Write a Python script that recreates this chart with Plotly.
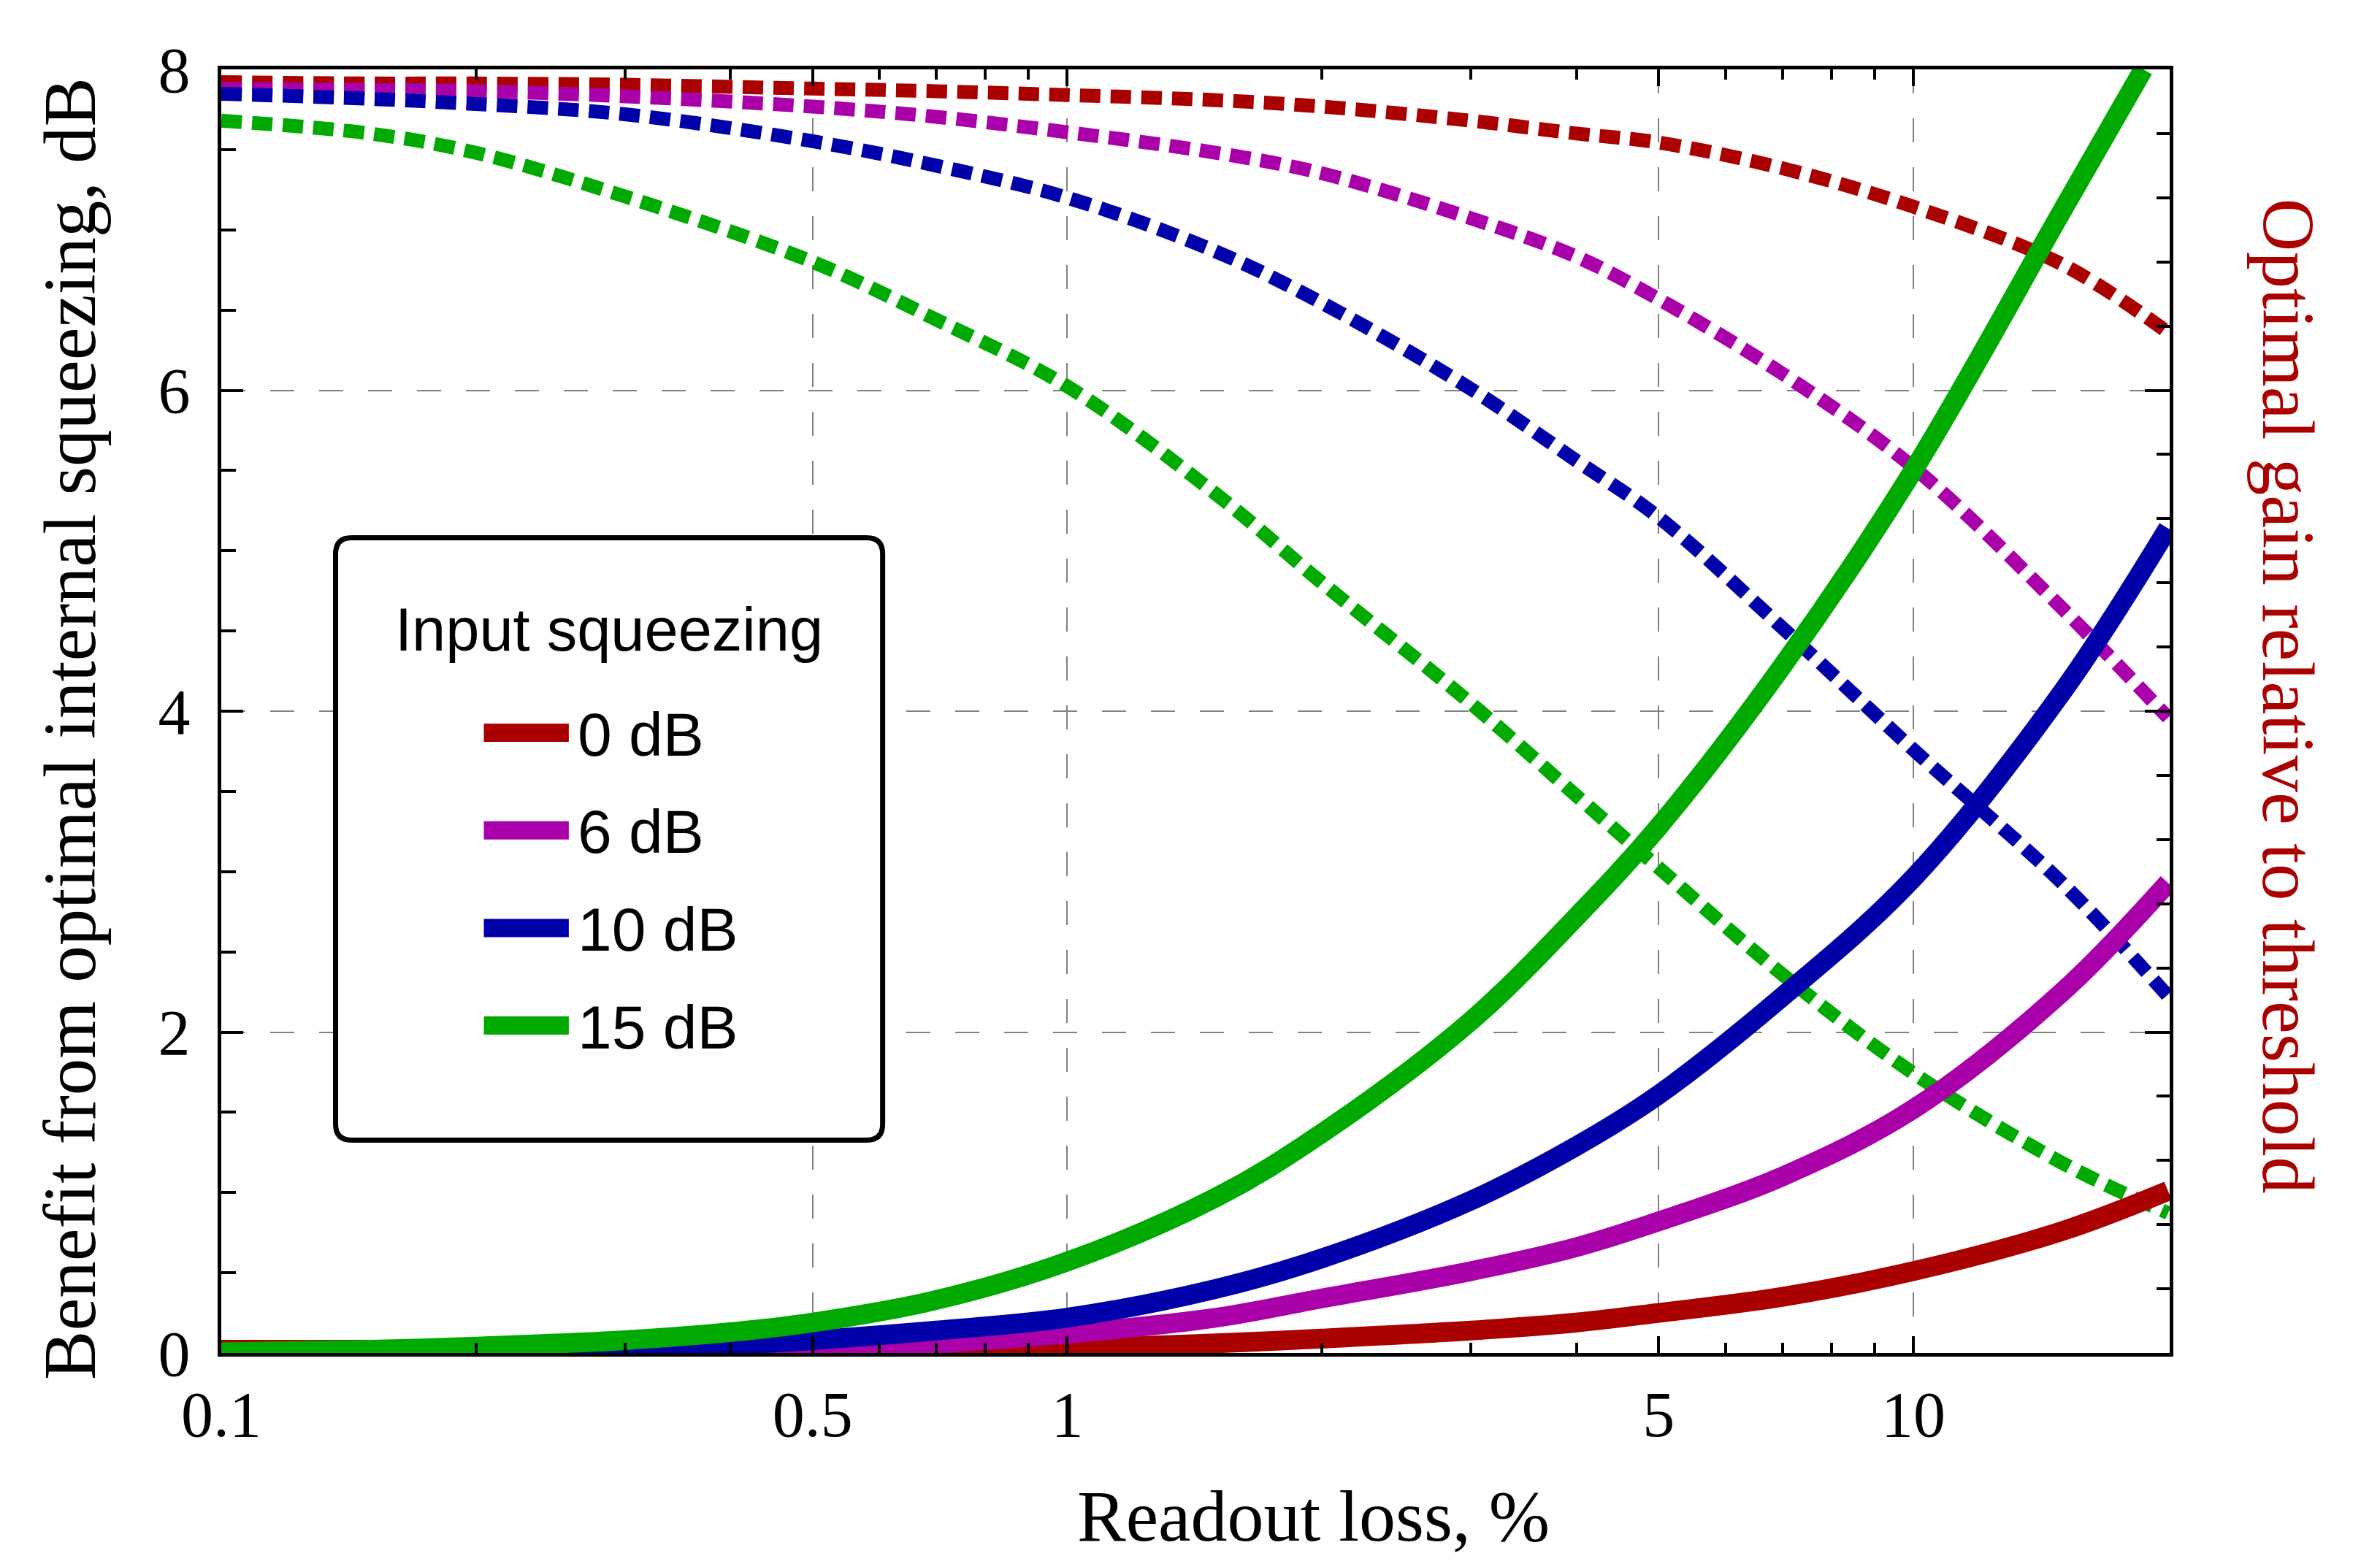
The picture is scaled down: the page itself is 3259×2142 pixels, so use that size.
import plotly.graph_objects as go

# ---------------- data ----------------
series_names = ["0 dB", "6 dB", "10 dB", "15 dB"]
series_colors = ["#AA0000", "#AA00AA", "#0000AA", "#00AA00"]

# Solid curves: benefit from optimal internal squeezing, dB (left axis)
loss_solid = [0.1, 0.15, 0.2, 0.3, 0.4, 0.5, 0.7, 1, 1.5, 2, 3, 4, 5, 7, 10, 15, 20]
benefit_0dB = [0.02, 0.02, 0.02, 0.02, 0.02, 0.02, 0.025, 0.03, 0.06, 0.09, 0.14, 0.19, 0.25, 0.35, 0.51, 0.76, 1.01]
benefit_6dB = [0.0, 0.0, 0.005, 0.01, 0.02, 0.03, 0.06, 0.12, 0.22, 0.34, 0.51, 0.66, 0.82, 1.10, 1.52, 2.25, 2.93]
benefit_10dB = [0.0, 0.005, 0.01, 0.02, 0.05, 0.08, 0.14, 0.22, 0.40, 0.59, 0.95, 1.29, 1.61, 2.22, 2.96, 4.12, 5.14]
loss_solid_15dB = [0.1, 0.15, 0.2, 0.3, 0.4, 0.5, 0.7, 1, 1.5, 2, 3, 4, 5, 7, 10, 15, 18.7]
benefit_15dB = [0.005, 0.02, 0.04, 0.08, 0.13, 0.19, 0.33, 0.57, 0.97, 1.37, 2.07, 2.72, 3.28, 4.28, 5.50, 7.12, 8.0]

# Dashed curves: optimal gain relative to threshold (right axis, 0..1)
loss_dashed = [0.1, 0.15, 0.2, 0.3, 0.5, 0.7, 1, 1.5, 2, 3, 4, 5, 7, 10, 15, 20]
gain_0dB = [0.990, 0.989, 0.989, 0.988, 0.985, 0.983, 0.980, 0.976, 0.971, 0.960, 0.950, 0.943, 0.923, 0.893, 0.848, 0.795]
gain_6dB = [0.985, 0.984, 0.983, 0.979, 0.971, 0.963, 0.951, 0.935, 0.919, 0.884, 0.854, 0.821, 0.763, 0.690, 0.580, 0.495]
gain_10dB = [0.981, 0.977, 0.973, 0.965, 0.944, 0.925, 0.900, 0.858, 0.818, 0.751, 0.695, 0.651, 0.565, 0.470, 0.366, 0.278]
gain_15dB = [0.960, 0.950, 0.935, 0.901, 0.850, 0.805, 0.753, 0.669, 0.600, 0.506, 0.434, 0.378, 0.295, 0.218, 0.148, 0.109]

solid_x = [loss_solid, loss_solid, loss_solid, loss_solid_15dB]
solid_y = [benefit_0dB, benefit_6dB, benefit_10dB, benefit_15dB]
dashed_y = [gain_0dB, gain_6dB, gain_10dB, gain_15dB]

x_tickvals = [0.1, 0.5, 1, 5, 10]
x_ticktext = ["0.1", "0.5", "1", "5", "10"]
x_minor = [0.2, 0.3, 0.4, 0.6, 0.7, 0.8, 0.9, 2, 3, 4, 6, 7, 8, 9]
y_tickvals = [0, 2, 4, 6, 8]
gain_tickvals = [0, 0.25, 0.5, 0.75, 1.0]
gain_minor = [i * 0.05 for i in range(21)]

legend_title = "Input squeezing"
x_title = "Readout loss, %"
y_title = "Benefit from optimal internal squeezing, dB"
y2_title = "Optimal gain relative to threshold"

# ---------------- layout geometry ----------------
W, H = 3259, 2142
L, R, T, B = 295, 2962.6, 87, 1845


def px(xp):
    return (xp - L) / (R - L)


def py(yp):
    return (B - yp) / (B - T)


SERIF = "Liberation Serif, Times New Roman, serif"
SANS = "Liberation Sans, Arial, sans-serif"

fig = go.Figure()

# dashed curves (gain) on base axis 'y' -> drawn underneath
for name, col, yv in zip(series_names, series_colors, dashed_y):
    fig.add_trace(go.Scatter(
        x=loss_dashed, y=yv, mode="lines", xaxis="x", yaxis="y",
        line=dict(color=col, width=19, dash="28px,14px", shape="spline", smoothing=1.0),
        name=name + " gain", showlegend=False, hoverinfo="skip"))

# solid curves (benefit) on overlaying axis 'y2'
for name, col, xv, yv in zip(series_names, series_colors, solid_x, solid_y):
    fig.add_trace(go.Scatter(
        x=xv, y=yv, mode="lines", xaxis="x", yaxis="y2",
        line=dict(color=col, width=27, shape="spline", smoothing=1.0),
        name=name, showlegend=False, hoverinfo="skip"))

grid_dash = "33px,34px"

fig.update_layout(
    width=W, height=H,
    margin=dict(l=L, r=W - R, t=T, b=H - B, autoexpand=False),
    paper_bgcolor="white", plot_bgcolor="white",
    showlegend=False,
    xaxis=dict(
        type="log", range=[-1, 1.303],
        tickmode="array", tickvals=x_tickvals, ticktext=x_ticktext,
        ticks="inside", ticklen=23, tickwidth=4, tickcolor="black",
        showline=True, linewidth=5, linecolor="black", mirror="ticks",
        showgrid=True, gridcolor="#808080", gridwidth=2, griddash=grid_dash,
        zeroline=False,
        tickfont=dict(family=SERIF, size=88, color="black"),
        ticklabelstandoff=3,
        minor=dict(tickmode="array", tickvals=x_minor, ticks="inside",
                   ticklen=14, tickwidth=4, tickcolor="black", showgrid=False),
    ),
    yaxis=dict(
        range=[0, 1], side="right",
        tickmode="array", tickvals=gain_tickvals, showticklabels=False,
        ticks="inside", ticklen=34, tickwidth=4, tickcolor="black",
        showline=True, linewidth=5, linecolor="black",
        showgrid=False, zeroline=False,
        minor=dict(tickmode="array", tickvals=gain_minor, ticks="inside",
                   ticklen=18, tickwidth=4, tickcolor="black", showgrid=False),
    ),
    yaxis2=dict(
        range=[0, 8], side="left", overlaying="y",
        tickmode="array", tickvals=y_tickvals,
        ticks="inside", ticklen=30, tickwidth=4, tickcolor="black",
        showline=True, linewidth=5, linecolor="black",
        showgrid=True, gridcolor="#808080", gridwidth=2, griddash=grid_dash,
        zeroline=False,
        tickfont=dict(family=SERIF, size=88, color="black"),
        ticklabelstandoff=20,
        minor=dict(dtick=0.5, tick0=0, ticks="inside",
                   ticklen=20, tickwidth=4, tickcolor="black", showgrid=False),
    ),
)

annotations = [
    dict(text=x_title, x=px(1790), y=py(2068), xref="paper", yref="paper",
         xanchor="center", yanchor="middle", showarrow=False,
         font=dict(family=SERIF, size=100, color="black")),
    dict(text=y_title, x=px(88), y=py(990), xref="paper", yref="paper",
         xanchor="center", yanchor="middle", showarrow=False, textangle=-90,
         font=dict(family=SERIF, size=101, color="black")),
    dict(text=y2_title, x=px(3125), y=py(945), xref="paper", yref="paper",
         xanchor="center", yanchor="middle", showarrow=False, textangle=90,
         font=dict(family=SERIF, size=101, color="#AA0000")),
    dict(text=legend_title, x=px(826), y=py(855), xref="paper", yref="paper",
         xanchor="center", yanchor="middle", showarrow=False,
         font=dict(family=SANS, size=83, color="black")),
]

shapes = []
# legend box with rounded corners
bx0, bx1, by0, by1, rr = 451.5, 1200.5, 728.5, 1553.5, 22
path = (
    f"M {px(bx0 + rr)},{py(by0)} L {px(bx1 - rr)},{py(by0)} "
    f"Q {px(bx1)},{py(by0)} {px(bx1)},{py(by0 + rr)} "
    f"L {px(bx1)},{py(by1 - rr)} Q {px(bx1)},{py(by1)} {px(bx1 - rr)},{py(by1)} "
    f"L {px(bx0 + rr)},{py(by1)} Q {px(bx0)},{py(by1)} {px(bx0)},{py(by1 - rr)} "
    f"L {px(bx0)},{py(by0 + rr)} Q {px(bx0)},{py(by0)} {px(bx0 + rr)},{py(by0)} Z"
)
shapes.append(dict(type="path", path=path, xref="paper", yref="paper",
                   line=dict(color="black", width=7), fillcolor="white", layer="above"))

item_y0, item_dy = 995.5, 133.7
for i, (name, col) in enumerate(zip(series_names, series_colors)):
    yc = item_y0 + i * item_dy
    shapes.append(dict(type="line", xref="paper", yref="paper",
                       x0=px(654.5), x1=px(770.8), y0=py(yc), y1=py(yc),
                       line=dict(color=col, width=25), layer="above"))
    annotations.append(dict(text=name, x=px(781), y=py(yc + 2), xref="paper", yref="paper",
                            xanchor="left", yanchor="middle", showarrow=False,
                            font=dict(family=SANS, size=84, color="black")))

fig.update_layout(shapes=shapes, annotations=annotations)

fig.write_html("out.html")
